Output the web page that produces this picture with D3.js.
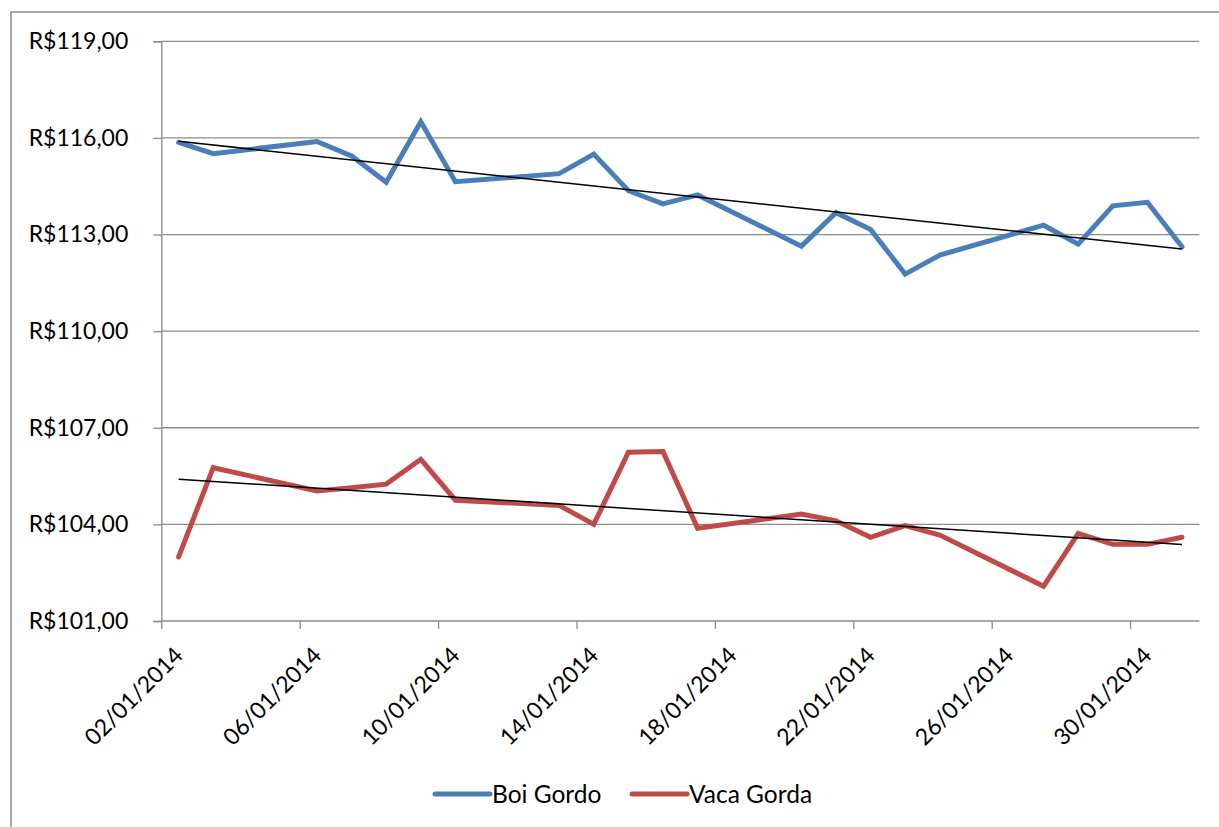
<!DOCTYPE html>
<html>
<head>
<meta charset="utf-8">
<script src="https://cdn.jsdelivr.net/npm/d3@7"></script>
<style>
  html, body { margin: 0; padding: 0; background: #fff; }
  svg { display: block; }
  text { font-family: Lato, "Open Sans", sans-serif; fill: #000; }
</style>
</head>
<body>
<div id="chart"></div>
<script>
// Daily prices, January 2014 (trading days)
const dates = ["02/01/2014","03/01/2014","06/01/2014","07/01/2014","08/01/2014","09/01/2014","10/01/2014",
  "13/01/2014","14/01/2014","15/01/2014","16/01/2014","17/01/2014","20/01/2014","21/01/2014",
  "22/01/2014","23/01/2014","24/01/2014","27/01/2014","28/01/2014","29/01/2014","30/01/2014","31/01/2014"];
const boiGordo = [115.86,115.51,115.89,115.44,114.62,116.50,114.64,114.89,115.50,114.36,113.95,114.23,
  112.64,113.68,113.16,111.77,112.36,113.29,112.70,113.89,114.00,112.62];
const vacaGorda = [102.99,105.76,105.04,105.14,105.25,106.02,104.75,104.59,104.00,106.24,106.26,103.88,
  104.32,104.11,103.60,103.96,103.67,102.08,103.72,103.38,103.38,103.60];
const seriesNames = ["Boi Gordo", "Vaca Gorda"];
const seriesColors = ["#4A7EBB", "#BE4B48"];
const yTicks = [101, 104, 107, 110, 113, 116, 119];
const xTickLabels = ["02/01/2014","06/01/2014","10/01/2014","14/01/2014","18/01/2014","22/01/2014","26/01/2014","30/01/2014"];

const W = 1219, H = 827;
const parse = d3.timeParse("%d/%m/%Y");
const fmtDate = d3.timeFormat("%d/%m/%Y");
const day = 24 * 3600 * 1000;

const svg = d3.select("#chart").append("svg").attr("width", W).attr("height", H);

// chart area frame
svg.append("rect").attr("x", 11).attr("y", 12).attr("width", 1400).attr("height", 1000)
  .attr("fill", "none").attr("stroke", "#8c8c8c").attr("stroke-width", 1.5);

const plot = { left: 161.3, right: 1199.3, top: 41.3, bottom: 621 };

// date axis: each day occupies one slot, points sit in the middle of their day
const x = d3.scaleTime()
  .domain([parse("02/01/2014"), parse("01/02/2014")])
  .range([plot.left, plot.right]);
const xc = d => x(new Date(parse(d).getTime() + day / 2));
const y = d3.scaleLinear().domain([101, 119]).range([plot.bottom, plot.top]);

// horizontal gridlines
svg.append("g").selectAll("line").data(yTicks.slice(1)).join("line")
  .attr("x1", plot.left).attr("x2", plot.right)
  .attr("y1", d => y(d)).attr("y2", d => y(d))
  .attr("stroke", "#8c8c8c").attr("stroke-width", 1.3);

// y axis
const fmtBRL = v => "R$" + d3.format(".2f")(v).replace(".", ",");
const yAxis = d3.axisLeft(y).tickValues(yTicks).tickSize(8).tickFormat(fmtBRL);
const gy = svg.append("g").attr("transform", `translate(${plot.left},0)`).call(yAxis);
gy.select(".domain").attr("stroke", "#8c8c8c").attr("stroke-width", 1.3);
gy.selectAll(".tick line").attr("stroke", "#8c8c8c").attr("stroke-width", 1.3);
gy.selectAll(".tick text").attr("x", -33).attr("font-size", 23).attr("font-family", "Lato, sans-serif");

// x axis
const xAxis = d3.axisBottom(x).tickValues(xTickLabels.map(parse)).tickSize(8).tickFormat(fmtDate);
const gx = svg.append("g").attr("transform", `translate(0,${plot.bottom})`).call(xAxis);
gx.select(".domain").attr("stroke", "#8c8c8c").attr("stroke-width", 1.3).attr("d", `M${plot.left},0H${plot.right}`);
gx.selectAll(".tick line").attr("stroke", "#8c8c8c").attr("stroke-width", 1.3);
gx.selectAll(".tick text")
  .attr("font-size", 23).attr("font-family", "Lato, sans-serif")
  .attr("text-anchor", "end")
  .attr("x", 0).attr("y", 0).attr("dy", "0.35em")
  .attr("transform", "translate(17,30) rotate(-45)");

// series lines
const series = [boiGordo, vacaGorda];
const line = d3.line().x((d, i) => xc(dates[i])).y(d => y(d));
series.forEach((vals, s) => {
  svg.append("path").datum(vals).attr("d", line)
    .attr("fill", "none").attr("stroke", seriesColors[s]).attr("stroke-width", 5)
    .attr("stroke-linejoin", "miter").attr("stroke-linecap", "round");
});

// linear trendlines (least squares against date)
series.forEach(vals => {
  const xs = dates.map(d => parse(d).getTime() / day);
  const mx = d3.mean(xs), my = d3.mean(vals);
  const slope = d3.sum(xs, (xi, i) => (xi - mx) * (vals[i] - my)) / d3.sum(xs, xi => (xi - mx) ** 2);
  const f = xi => my + slope * (xi - mx);
  const x0 = xs[0], x1 = xs[xs.length - 1];
  svg.append("line")
    .attr("x1", xc(dates[0])).attr("y1", y(f(x0)))
    .attr("x2", xc(dates[dates.length - 1])).attr("y2", y(f(x1)))
    .attr("stroke", "#000").attr("stroke-width", 1.5);
});

// legend
const legendX = [435, 632];
seriesNames.forEach((name, s) => {
  const g = svg.append("g").attr("transform", `translate(${legendX[s]},794)`);
  g.append("line").attr("x1", 0).attr("x2", 55).attr("y1", 0).attr("y2", 0)
    .attr("stroke", seriesColors[s]).attr("stroke-width", 5).attr("stroke-linecap", "round");
  g.append("text").attr("x", 57).attr("y", 0).attr("dy", "0.35em").attr("font-size", 24.5).text(name);
});
</script>
</body>
</html>
